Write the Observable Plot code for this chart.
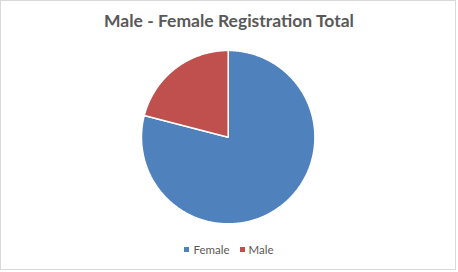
<!DOCTYPE html>
<html>
<head>
<meta charset="utf-8">
<script src="https://cdn.jsdelivr.net/npm/d3@7"></script>
<script src="https://cdn.jsdelivr.net/npm/@observablehq/plot@0.6"></script>
<style>
  html, body { margin: 0; padding: 0; background: #fff; }
  #wrap { position: relative; width: 458px; height: 272px; background: #fff; font-family: Lato, "Open Sans", sans-serif; }
  #frame { position: absolute; left: 0; top: 0; width: 454px; height: 268px; border: 1px solid #d9d9d9; pointer-events: none; }
  #title { height: 40px; line-height: 42px; text-align: center; font-weight: bold; font-size: 17.5px; color: #595959; }
  #chart svg { display: block; }
  #legend { position: absolute; top: 243px; left: 0; width: 458px; display: flex; justify-content: center; align-items: center; font-size: 11.5px; color: #595959; gap: 10px; }
  .item { display: flex; align-items: center; gap: 4px; }
  .sw { width: 5px; height: 5px; display: inline-block; }
</style>
</head>
<body>
<div id="wrap">
  <div id="title">Male - Female Registration Total</div>
  <div id="chart"></div>
  <div id="legend"></div>
  <div id="frame"></div>
</div>
<script>
const categories = ["Female", "Male"];
const values = [79, 21];
const colors = ["#4F81BD", "#C0504D"];

// Build slice outlines from the values using d3.pie (clockwise from 12 o'clock)
const pie = d3.pie().sort(null).value(d => d.value);
const arcs = pie(categories.map((c, i) => ({label: c, value: values[i]})));
const pts = [];
for (const a of arcs) {
  const n = Math.max(2, Math.ceil((a.endAngle - a.startAngle) / 0.01));
  pts.push({label: a.data.label, x: 0, y: 0});
  for (let k = 0; k <= n; k++) {
    const t = a.startAngle + (a.endAngle - a.startAngle) * k / n;
    pts.push({label: a.data.label, x: Math.sin(t), y: Math.cos(t)});
  }
  pts.push({label: a.data.label, x: 0, y: 0});
}

const plot = Plot.plot({
  width: 458,
  height: 196,
  marginLeft: 141,
  marginRight: 143.6,
  marginTop: 10,
  marginBottom: 12.7,
  x: {domain: [-1, 1], axis: null},
  y: {domain: [-1, 1], axis: null},
  color: {domain: categories, range: colors},
  marks: [
    Plot.line(pts, {x: "x", y: "y", z: "label", fill: "label", stroke: "#fff", strokeWidth: 1.5, curve: "linear-closed", strokeLinejoin: "miter"})
  ]
});
document.getElementById("chart").appendChild(plot);

const legend = document.getElementById("legend");
categories.forEach((c, i) => {
  const item = document.createElement("span");
  item.className = "item";
  const sw = document.createElement("span");
  sw.className = "sw";
  sw.style.background = colors[i];
  item.appendChild(sw);
  const t = document.createElement("span");
  t.textContent = c;
  item.appendChild(t);
  legend.appendChild(item);
});
</script>
</body>
</html>
